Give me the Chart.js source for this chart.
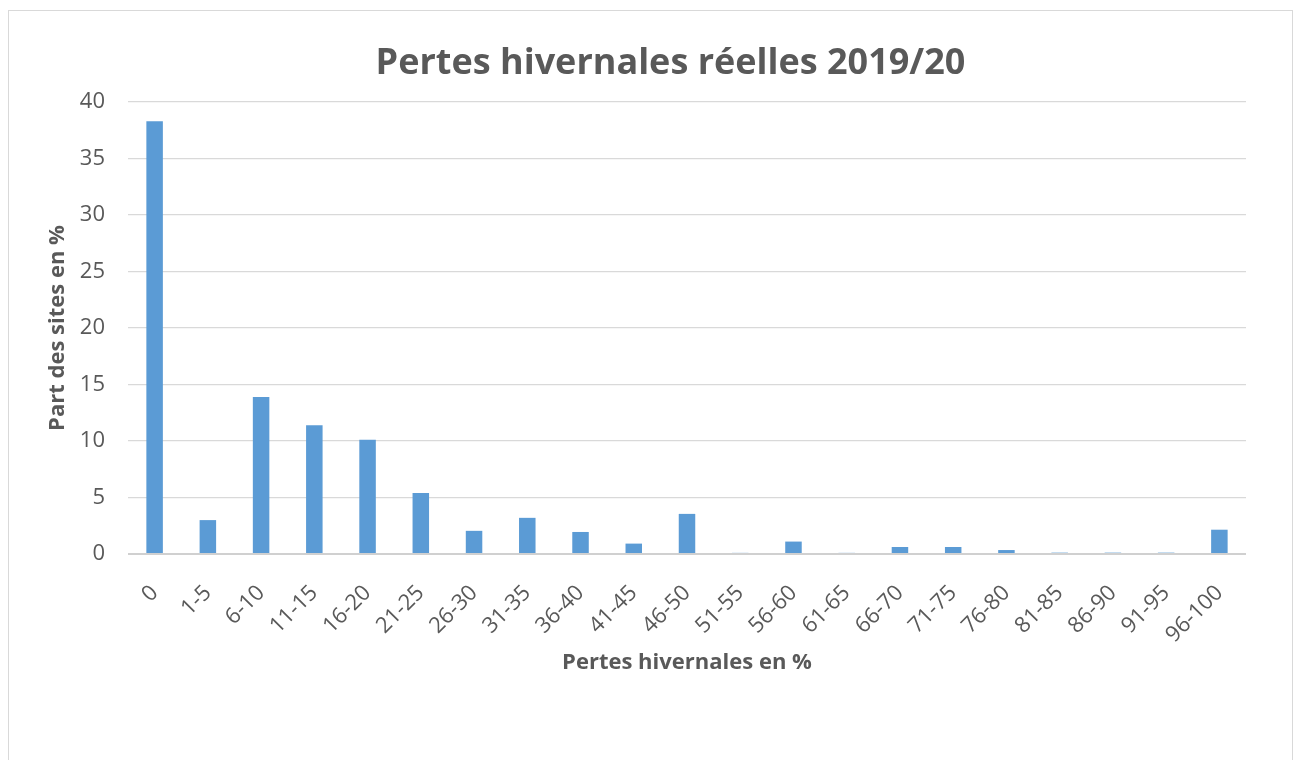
<!DOCTYPE html>
<html><head><meta charset="utf-8">
<script src="https://cdn.jsdelivr.net/npm/chart.js@4"></script>
<style>
html,body{margin:0;padding:0;background:#fff;overflow:hidden}
#frame{position:absolute;left:8px;top:10px;width:1285px;height:800px;border:1px solid #D9D9D9;box-sizing:border-box}
#wrap{position:absolute;left:0;top:0;width:1301px;height:760px}
</style></head>
<body><div id="frame"></div><div id="wrap"><canvas id="c"></canvas></div>
<script>
const categories = ['0','1-5','6-10','11-15','16-20','21-25','26-30','31-35','36-40','41-45','46-50','51-55','56-60','61-65','66-70','71-75','76-80','81-85','86-90','91-95','96-100'];
const values = [38.3, 3.0, 13.9, 11.4, 10.1, 5.4, 2.05, 3.2, 1.95, 0.92, 3.55, 0.1, 1.1, 0.1, 0.62, 0.62, 0.35, 0.12, 0.12, 0.12, 2.15];
const yTicks = [0, 5, 10, 15, 20, 25, 30, 35, 40];
const chartTitle = 'Pertes hivernales réelles 2019/20';
const FONT = '"Open Sans"';
const TXT = '#595959';

const titlePlugin = {
  id: 'centeredTitle',
  afterDraw(chart) {
    const ctx = chart.ctx;
    ctx.save();
    ctx.font = 'bold 36px ' + FONT;
    ctx.fillStyle = TXT;
    ctx.textAlign = 'center';
    ctx.textBaseline = 'alphabetic';
    ctx.fillText(chartTitle, 670.5, 74);
    ctx.restore();
  }
};

new Chart(document.getElementById('c'), {
  type: 'bar',
  data: {
    labels: categories,
    datasets: [{
      data: values,
      backgroundColor: '#5B9BD5',
      borderWidth: 0,
      categoryPercentage: 1,
      barPercentage: 0.31
    }]
  },
  options: {
    responsive: true,
    maintainAspectRatio: false,
    animation: false,
    layout: { padding: { left: 41, right: 55, top: 102, bottom: 80 } },
    plugins: {
      legend: { display: false },
      tooltip: { enabled: false },
      title: { display: false }
    },
    scales: {
      x: {
        grid: { display: false, drawTicks: false },
        border: { display: false },
        ticks: {
          color: TXT,
          font: { family: FONT, size: 22 },
          maxRotation: 45, minRotation: 45,
          autoSkip: false,
          padding: 26
        },
        title: {
          display: true,
          text: 'Pertes hivernales en %',
          color: TXT,
          font: { family: FONT, size: 22, weight: 'bold', lineHeight: 1.2 },
          padding: { top: 4, bottom: 4 }
        },
        afterFit: s => { s.height = 126; }
      },
      y: {
        min: 0, max: 40,
        afterBuildTicks: s => { s.ticks = yTicks.map(v => ({ value: v })); },
        grid: {
          drawTicks: false,
          color: c => c.tick && c.tick.value === 0 ? '#D0D0D0' : '#D9D9D9',
          lineWidth: c => c.tick && c.tick.value === 0 ? 2 : 1.3
        },
        border: { display: false },
        ticks: {
          color: TXT,
          font: { family: FONT, size: 22 },
          padding: 23
        },
        title: {
          display: true,
          text: 'Part des sites en %',
          color: TXT,
          font: { family: FONT, size: 22, weight: 'bold', lineHeight: 1.2 },
          padding: { top: 4, bottom: 4 }
        },
        afterFit: s => { s.width = 87; }
      }
    }
  },
  plugins: [titlePlugin]
});
</script>
</body></html>
